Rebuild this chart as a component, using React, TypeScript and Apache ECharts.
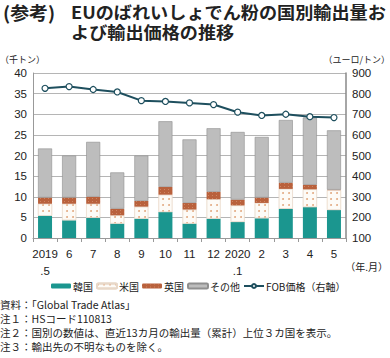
import React, { useEffect, useRef } from "react";
import * as echarts from "echarts";

const categories = ["2019\n.5", "6", "7", "8", "9", "10", "11", "12", "2020\n.1", "2", "3", "4", "5"];
const korea = [5.4, 4.3, 4.9, 3.5, 4.7, 6.3, 3.5, 4.7, 3.9, 4.8, 7.1, 7.5, 6.8];
const usa = [2.9, 4.0, 3.4, 2.0, 2.9, 4.2, 3.4, 4.7, 4.0, 3.7, 4.8, 4.3, 4.8];
const uk = [1.5, 1.5, 1.7, 1.6, 1.4, 1.9, 1.6, 1.8, 1.4, 1.3, 1.5, 1.1, 0.1];
const other = [11.9, 10.2, 13.3, 8.8, 11.0, 15.9, 15.4, 15.4, 16.4, 14.7, 15.2, 16.3, 14.4];
const fob = [826, 834, 820, 808, 766, 762, 755, 747, 710, 694, 700, 688, 684];

const leftTicks = { min: 0, max: 40, interval: 5 };
const rightTicks = { min: 100, max: 900, interval: 100 };

const JP = "'Noto Sans CJK JP', 'Liberation Sans', sans-serif";
const NUM = "'Liberation Sans', Arial, sans-serif";

export default function App() {
  const ref = useRef<HTMLDivElement>(null);
  useEffect(() => {
    if (!ref.current) return;
    const chart = echarts.init(ref.current, null, { renderer: "svg" });
    const barW = 14;
    chart.setOption({
      animation: false,
      backgroundColor: "#fff",
      textStyle: { fontFamily: NUM },
      grid: { left: 33, right: 44, top: 73, bottom: 120 },
      legend: {
        top: 276,
        left: 46,
        width: 340,
        itemWidth: 20,
        itemHeight: 5,
        itemGap: 3,
        textStyle: { fontFamily: JP, fontSize: 10, color: "#222", padding: [0, 0, 0, -3] },
        data: ["韓国", "米国", "英国", "その他", "FOB価格（右軸）"],
      },
      xAxis: {
        type: "category",
        data: categories,
        axisLine: { lineStyle: { color: "#999" } },
        axisTick: { show: true, alignWithLabel: false, length: 4, interval: 0, lineStyle: { color: "#999" } },
        axisLabel: { interval: 0, color: "#222", fontSize: 11.5, lineHeight: 17, margin: 7, fontFamily: NUM },
      },
      yAxis: [
        {
          type: "value",
          ...leftTicks,
          axisLine: { show: true, lineStyle: { color: "#999" } },
          axisTick: { show: false },
          splitLine: { lineStyle: { color: "#b5b5b5" } },
          axisLabel: { color: "#222", fontSize: 11.5, margin: 6, fontFamily: NUM },
        },
        {
          type: "value",
          ...rightTicks,
          position: "right",
          axisLine: { show: true, lineStyle: { color: "#888", width: 1.5 } },
          axisTick: { show: false },
          splitLine: { show: false },
          axisLabel: { color: "#222", fontSize: 11.5, margin: 6, fontFamily: NUM },
        },
      ],
      series: [
        {
          name: "韓国", type: "bar", stack: "a", data: korea, barWidth: barW,
          itemStyle: { color: "#1b968f" },
        },
        {
          name: "米国", type: "bar", stack: "a", data: usa, barWidth: barW,
          itemStyle: {
            color: "#fdfbf7",
            borderColor: "#e8d8c8", borderWidth: 0.5,
            decal: { symbol: "circle", symbolSize: 0.9, color: "#e0a47a", dashArrayX: [[1.5, 3.5]], dashArrayY: [1.5, 3.5], rotation: 0 },
          },
        },
        {
          name: "英国", type: "bar", stack: "a", data: uk, barWidth: barW,
          itemStyle: {
            color: "#b9613c",
            decal: { symbol: "rect", symbolSize: 0.8, color: "rgba(230,170,140,0.6)", dashArrayX: [[1, 3]], dashArrayY: [1, 2], rotation: 0 },
          },
        },
        {
          name: "その他", type: "bar", stack: "a", data: other, barWidth: barW,
          itemStyle: { color: "#bdbdbd", borderColor: "#8f8f8f", borderWidth: 0.6 },
        },
        {
          name: "FOB価格（右軸）", type: "line", yAxisIndex: 1, data: fob,
          symbol: "circle", symbolSize: 6,
          lineStyle: { color: "#1e4f5e", width: 2 },
          itemStyle: { color: "#fff", borderColor: "#1e4f5e", borderWidth: 1.2 },
        },
      ],
      graphic: [
        { type: "text", x: 3, y: 3, scaleX: 1.05, style: { text: "(参考)", font: `bold 18px ${JP}`, lineHeight: 18, verticalAlign: "top", fill: "#222" } },
        { type: "text", x: 71, y: 3, scaleX: 1.1, style: { text: "EUのばれいしょでん粉の国別輸出量お", font: `bold 16.5px ${JP}`, lineHeight: 17, verticalAlign: "top", fill: "#222" } },
        { type: "text", x: 71, y: 23, scaleX: 1.1, style: { text: "よび輸出価格の推移", font: `bold 16.5px ${JP}`, lineHeight: 17, verticalAlign: "top", fill: "#222" } },
        { type: "text", left: 0, top: 55, style: { text: "（千トン）", font: `9px ${JP}`, fill: "#222" } },
        { type: "text", right: 0, top: 55, style: { text: "（ユーロ/トン）", font: `9px ${JP}`, fill: "#222" } },
        { type: "text", right: 2, top: 261, style: { text: "（年.月）", font: `10px ${JP}`, fill: "#222" } },
        { type: "text", left: 0, top: 299, style: { text: "資料：「Global Trade Atlas」", font: `10.5px ${JP}`, fill: "#222" } },
        { type: "text", left: 0, top: 313, style: { text: "注１：HSコード110813", font: `10.5px ${JP}`, fill: "#222" } },
        { type: "text", left: 0, top: 327, style: { text: "注２：国別の数値は、直近13カ月の輸出量（累計）上位３カ国を表示。", font: `10.5px ${JP}`, fill: "#222" } },
        { type: "text", left: 0, top: 341, style: { text: "注３：輸出先の不明なものを除く。", font: `10.5px ${JP}`, fill: "#222" } },
      ],
    });
    return () => chart.dispose();
  }, []);
  return <div ref={ref} style={{ width: 390, height: 358, position: "absolute", left: 0, top: 0 }} />;
}
